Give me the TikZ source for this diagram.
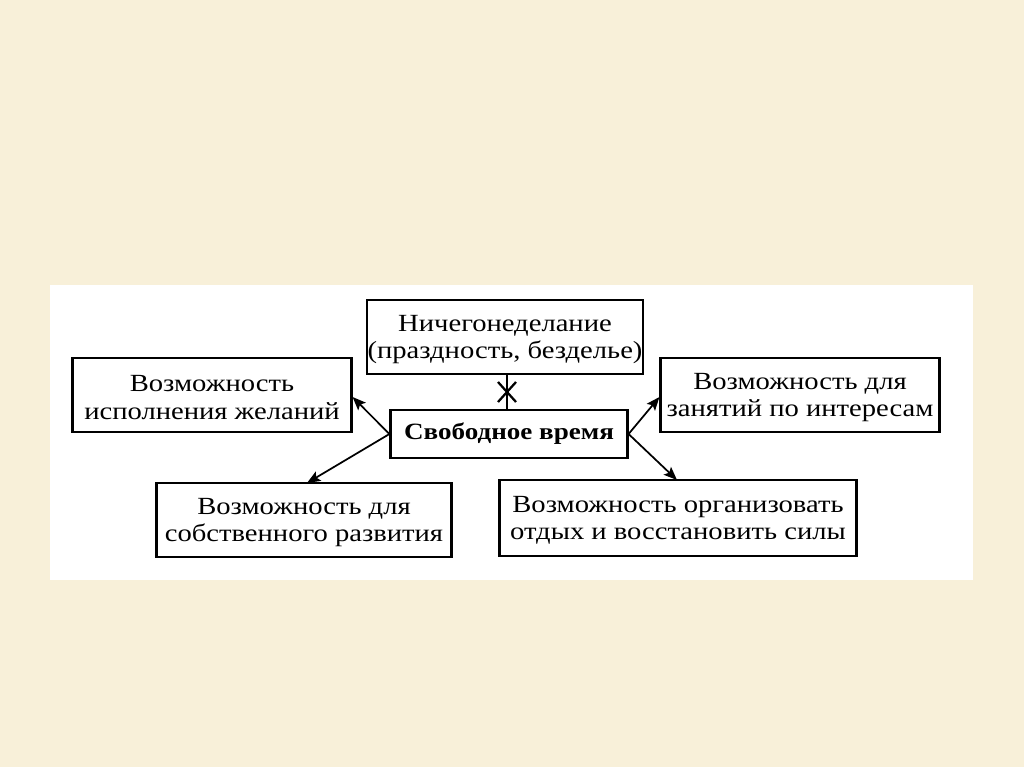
\documentclass[tikz,border=0pt]{standalone}
\usepackage{fontspec}
\setmainfont{Liberation Serif}[FakeStretch=1.16]
\usetikzlibrary{arrows.meta,calc}
\definecolor{bgbeige}{HTML}{F8F0D9}
\newcommand{\tstrut}{\rule{0pt}{16pt}}
\begin{document}
\begin{tikzpicture}[x=0.75pt,y=-0.75pt,
  box/.style={draw=black,line width=1.6pt,fill=white,align=center,inner sep=0pt,font=\fontsize{18.5}{20.5}\selectfont},
  conn/.style={line width=1.3pt,-{Stealth[length=10pt,width=8pt,inset=2pt]}}]
\useasboundingbox (0,0) rectangle (1024,767);
\fill[bgbeige] (0,0) rectangle (1024,767);
\fill[white] (50,285) rectangle (973,580);
\node[box,minimum width=276*0.75pt,minimum height=74*0.75pt] (top) at (505,337) {\tstrut Ничегонеделание\\(праздность, безделье)};
\node[box,minimum width=279*0.75pt,minimum height=74*0.75pt] (ul) at (212,395) {\tstrut Возможность\\исполнения желаний};
\node[box,minimum width=237*0.75pt,minimum height=48*0.75pt,font=\fontsize{17.5}{20}\selectfont\bfseries] (c) at (509,434) {Свободное время};
\node[box,minimum width=279*0.75pt,minimum height=74*0.75pt] (ur) at (800,395) {\tstrut Возможность для\\занятий по интересам};
\node[box,minimum width=295*0.75pt,minimum height=74*0.75pt] (bl) at (304,520) {\tstrut Возможность для\\собственного развития};
\node[box,minimum width=357*0.75pt,minimum height=76*0.75pt] (br) at (678,518) {\tstrut Возможность организовать\\отдых и восстановить силы};
\coordinate (cl) at (c.west);
\coordinate (cr) at (c.east);
\coordinate (tul) at (ul.east |- 0,397);
\coordinate (tbl) at (307,483);
\coordinate (tur) at (ur.west |- 0,397);
\coordinate (tbr) at (677,480);
\draw[conn] (cl) -- (tul);
\draw[conn] (cl) -- (tbl);
\draw[conn] (cr) -- (tur);
\draw[conn] (cr) -- (tbr);
\coordinate (ts) at (top.south -| 507,0);
\coordinate (cn) at (c.north -| 507,0);
\draw[line width=1.3pt] (ts) -- (cn);
\coordinate (xm) at (507,392);
\draw[line width=1.7pt] ($(xm)+(-9,-10)$) -- ($(xm)+(9,10)$);
\draw[line width=1.7pt] ($(xm)+(9,-10)$) -- ($(xm)+(-9,10)$);
\end{tikzpicture}
\end{document}
